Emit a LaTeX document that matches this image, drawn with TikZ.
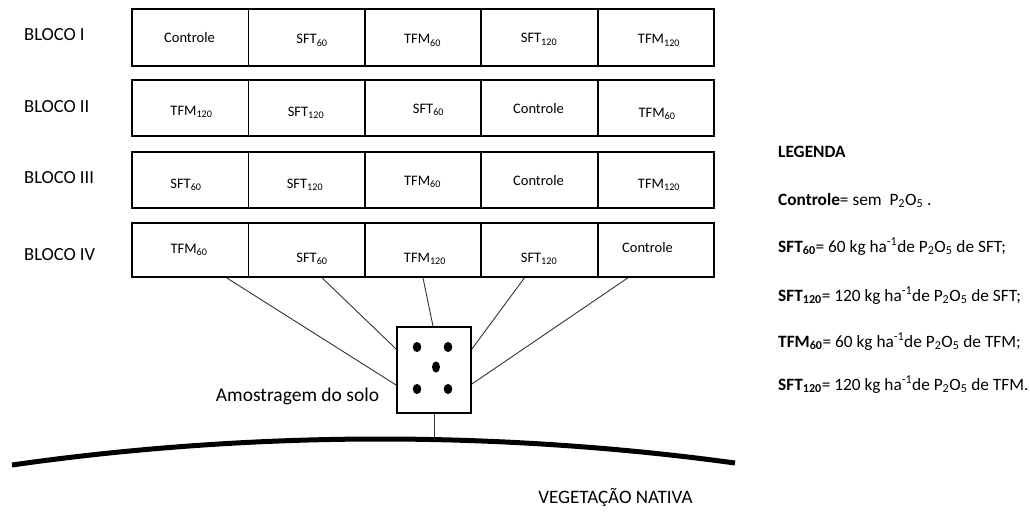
\documentclass[tikz,border=0pt]{standalone}
\usepackage{fontspec}
\setmainfont{Carlito}
\usetikzlibrary{calc}

% field plot cells, their labels and the side texts
\tikzset{
  cell/.style={draw, line width=1.8pt, minimum width=116.4pt, inner sep=0pt},
  celltext/.style={anchor=base, inner sep=0pt, font=\fontsize{14.5}{16}\selectfont},
  blocklabel/.style={anchor=base west, inner sep=0pt, font=\fontsize{18.5}{20}\selectfont},
  legendtext/.style={anchor=base west, inner sep=0pt, font=\fontsize{17.3}{19}\selectfont},
  link/.style={line width=0.9pt, black!80},
  sample/.style={draw, line width=1.8pt, minimum width=74pt, minimum height=86pt, inner sep=0pt},
  soildot/.style={fill=black, draw=none}
}

\begin{document}
\begin{tikzpicture}[x=1pt, y=-1pt]
\useasboundingbox (0,0) rectangle (1030,511);

% --- block labels ---
\node[blocklabel] (b1) at (24,41) {BLOCO I};
\node[blocklabel] (b2) at (24,112) {BLOCO II};
\node[blocklabel] (b3) at (24,183) {BLOCO III};
\node[blocklabel] (b4) at (24,260) {BLOCO IV};

% --- plot rows: five cells each ---
\foreach \r/\top/\bot in {1/9/66, 2/80/136, 3/152/208, 4/223/277}{
  \foreach \c in {1,...,5}{
    \node[cell, minimum height={\bot-\top}] (c\r\c)
      at ({132+116.4*(\c-0.5)}, {(\top+\bot)/2}) {};
  }
}

% --- treatment names in the cells ---
\node[celltext] (t11) at (189.5,43) {Controle};
\node[celltext] (t12) at (312,44) {SFT\textsubscript{60}};
\node[celltext] (t13) at (422.5,44) {TFM\textsubscript{60}};
\node[celltext] (t14) at (539,43) {SFT\textsubscript{120}};
\node[celltext] (t15) at (659,44) {TFM\textsubscript{120}};

\node[celltext] (t21) at (191.5,115) {TFM\textsubscript{120}};
\node[celltext] (t22) at (306,116) {SFT\textsubscript{120}};
\node[celltext] (t23) at (428.5,113) {SFT\textsubscript{60}};
\node[celltext] (t24) at (538.5,113) {Controle};
\node[celltext] (t25) at (657,117) {TFM\textsubscript{60}};

\node[celltext] (t31) at (186,188) {SFT\textsubscript{60}};
\node[celltext] (t32) at (305,188) {SFT\textsubscript{120}};
\node[celltext] (t33) at (422.5,185) {TFM\textsubscript{60}};
\node[celltext] (t34) at (538.5,185) {Controle};
\node[celltext] (t35) at (659,188) {TFM\textsubscript{120}};

\node[celltext] (t41) at (189,253) {TFM\textsubscript{60}};
\node[celltext] (t42) at (312,262) {SFT\textsubscript{60}};
\node[celltext] (t43) at (425,262) {TFM\textsubscript{120}};
\node[celltext] (t44) at (539,262) {SFT\textsubscript{120}};
\node[celltext] (t45) at (647.5,252) {Controle};

% --- composite soil sample ---
\node[sample] (samp) at (434,370) {};
\fill[soildot] (417,347) ellipse (4.3 and 5);
\fill[soildot] (448,347) ellipse (4.3 and 5);
\fill[soildot] (436,367) ellipse (4 and 5.6);
\fill[soildot] (417,389) ellipse (4.3 and 5);
\fill[soildot] (448,389) ellipse (4.3 and 5);
\node[anchor=base, inner sep=0pt, font=\fontsize{19.5}{21}\selectfont] (amos) at (297.5,401) {Amostragem do solo};

% --- lines from the plots of block IV to the sample ---
\draw[link] ($(c41.south)+(36.5,0)$) -- ($(samp.west)+(0,15)$);
\draw[link] ($(c42.south)+(15.5,0)$) -- ($(samp.west)+(0,-21)$);
\draw[link] (c43.south) -- ($(samp.north)+(-1,0)$);
\draw[link] ($(c44.south)+(-15,0)$) -- ($(samp.east)+(0,-21)$);
\draw[link] ($(c45.south)+(-28,0)$) -- ($(samp.east)+(0,14)$);

% --- edge of the native vegetation ---
\coordinate (gnd) at (434,440);
\draw[link] (samp.south) -- (gnd);
\draw[line width=5pt] (12,465) parabola bend (380,439) (735,463);
\node[anchor=base, inner sep=0pt, font=\fontsize{19}{21}\selectfont] (veg) at (615.5,503) {VEGETAÇÃO NATIVA};

% --- legend ---
\node[legendtext] (l0) at (778,157) {\textbf{LEGENDA}};
\node[legendtext] (l1) at (778,205) {\textbf{Controle}= sem\ \ P\textsubscript{2}O\textsubscript{5} .};
\node[legendtext] (l2) at (778,252) {\textbf{SFT\textsubscript{60}}= 60 kg ha\textsuperscript{-1}de P\textsubscript{2}O\textsubscript{5} de SFT;};
\node[legendtext] (l3) at (778,301) {\textbf{SFT\textsubscript{120}}= 120 kg ha\textsuperscript{-1}de P\textsubscript{2}O\textsubscript{5} de SFT;};
\node[legendtext] (l4) at (778,347) {\textbf{TFM\textsubscript{60}}= 60 kg ha\textsuperscript{-1}de P\textsubscript{2}O\textsubscript{5} de TFM;};
\node[legendtext] (l5) at (778,390) {\textbf{SFT\textsubscript{120}}= 120 kg ha\textsuperscript{-1}de P\textsubscript{2}O\textsubscript{5} de TFM.};
\end{tikzpicture}
\end{document}
